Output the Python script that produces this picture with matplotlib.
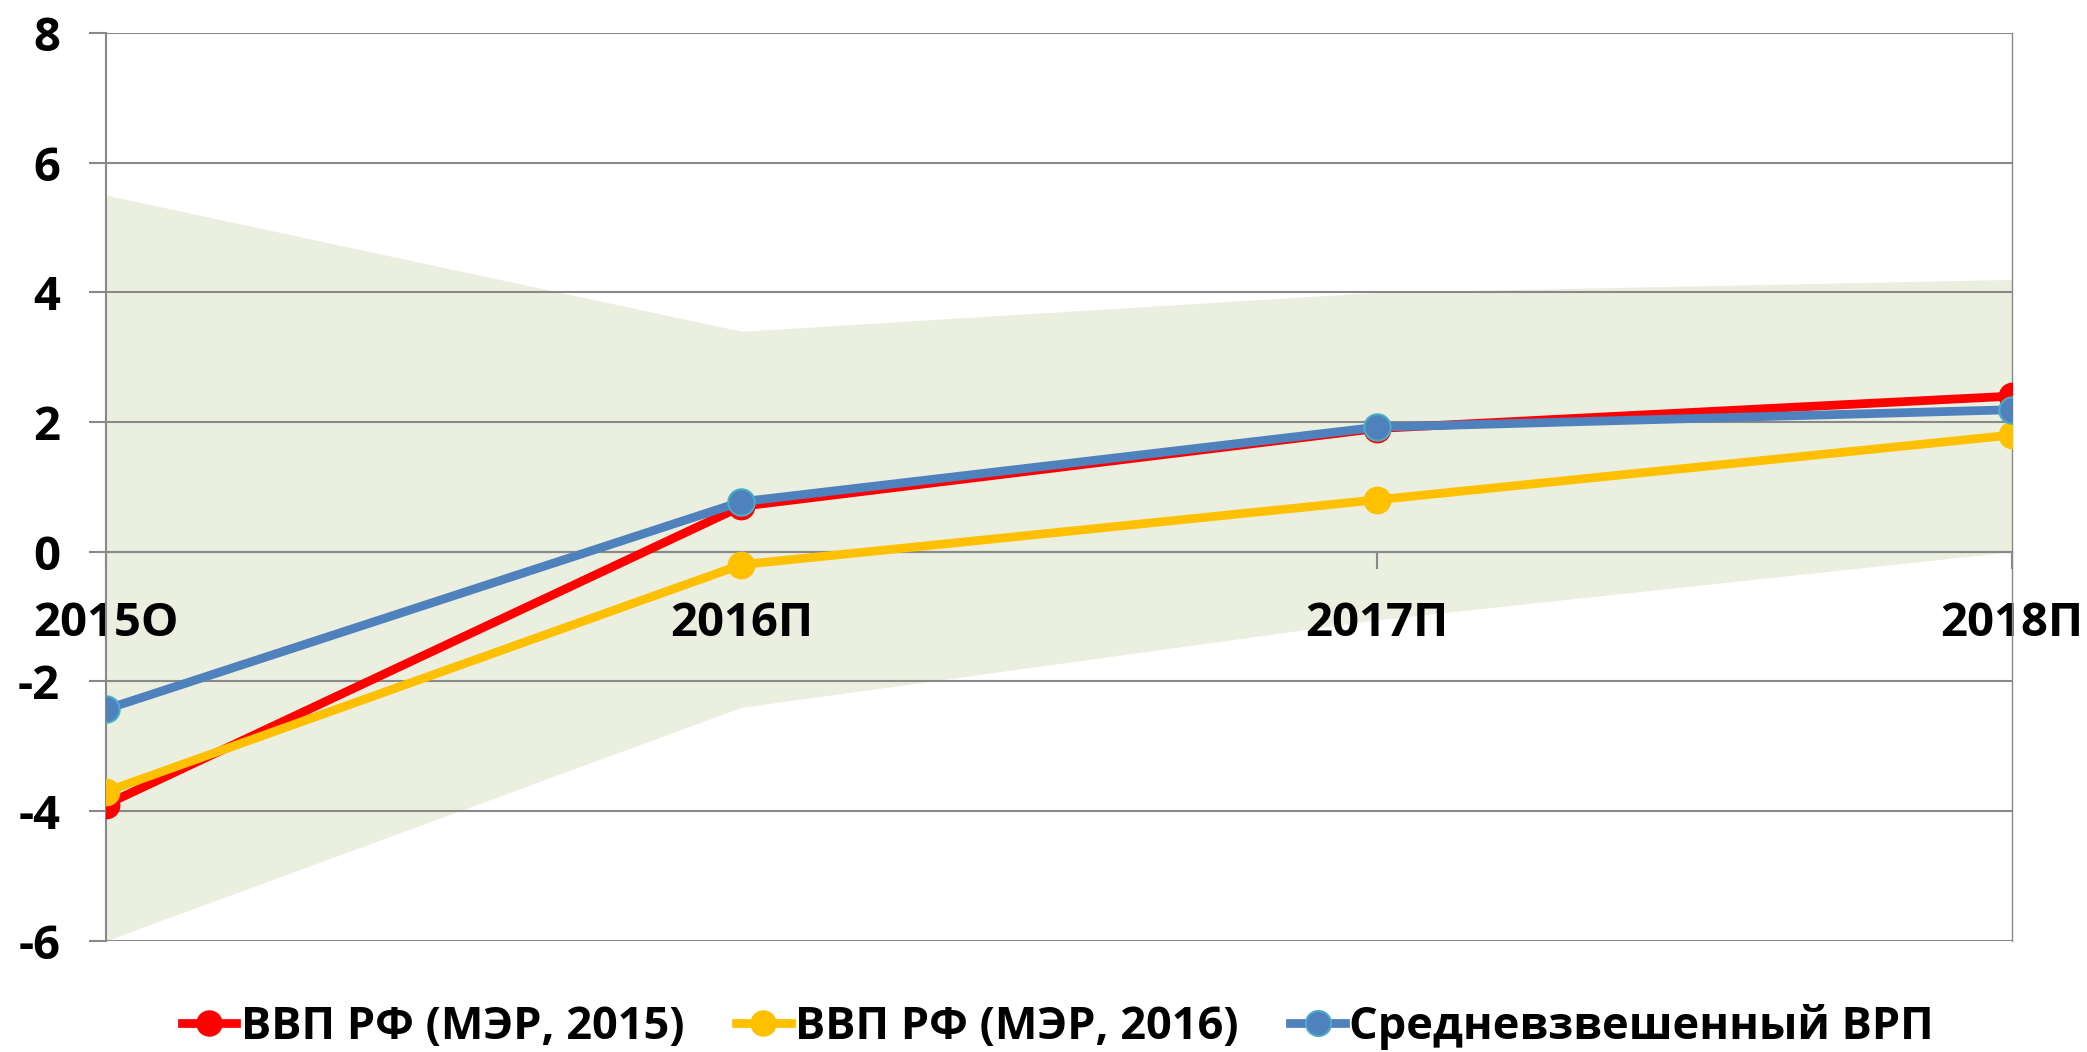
import numpy as np
import matplotlib
matplotlib.use("Agg")
import matplotlib.pyplot as plt

# categories and series
years = ["2015О", "2016П", "2017П", "2018П"]
gdp_2015 = [-3.9, 0.7, 1.9, 2.4]
gdp_2016 = [-3.7, -0.2, 0.8, 1.8]
grp_avg = [-2.43, 0.77, 1.92, 2.19]
range_high = [5.5, 3.4, 4.0, 4.2]
range_low = [-6.0, -2.4, -1.05, 0.0]

labels = ["ВВП РФ (МЭР, 2015)", "ВВП РФ (МЭР, 2016)", "Средневзвешенный ВРП"]
yticks = [-6, -4, -2, 0, 2, 4, 6, 8]

plt.rcParams['font.family'] = ['Open Sans', 'DejaVu Sans']
plt.rcParams['font.weight'] = 'bold'
plt.rcParams['axes.unicode_minus'] = False

grey = "#898989"
fs = 34

fig = plt.figure(figsize=(20.87, 10.52), dpi=100)
ax = fig.add_axes([0.0508, 0.1058, 0.9133, 0.8628])

x = np.arange(len(years))

ax.fill_between(x, range_low, range_high, color="#EBEFDF", linewidth=0, zorder=0.1)

ax.plot(x, gdp_2015, color="#FF0000", lw=6.3, marker="o", ms=19,
        mfc="#FF0000", mec="#FF0000", label=labels[0], zorder=3)
ax.plot(x, gdp_2016, color="#FFC000", lw=6.3, marker="o", ms=19,
        mfc="#FFC000", mec="#FFC000", label=labels[1], zorder=4)
ax.plot(x, grp_avg, color="#4F81BD", lw=6.3, marker="o", ms=19,
        mfc="#4F81BD", mec="#4BACC6", mew=1.5, label=labels[2], zorder=5)

ax.set_xlim(0, 3)
ax.set_ylim(-6, 8)
ax.set_yticks(yticks)
ax.set_yticklabels([str(v) for v in yticks])
ax.set_xticks(x)
ax.set_xticklabels(years)

ax.set_axisbelow(True)
ax.yaxis.grid(True, color=grey, lw=1.5)
ax.xaxis.grid(False)

ax.spines['top'].set_visible(False)
ax.spines['bottom'].set_position(('data', 0))
for s in ['left', 'bottom', 'right']:
    ax.spines[s].set_color(grey)
    ax.spines[s].set_linewidth(1.5)
ax.spines['right'].set_linewidth(1.0)

ax.tick_params(axis='y', direction='out', length=12, width=1.5, color=grey,
               labelsize=fs, pad=21)
ax.tick_params(axis='x', direction='out', length=12, width=1.5, color=grey,
               labelsize=fs, pad=23)
for t in ax.get_xticklabels() + ax.get_yticklabels():
    t.set_fontweight('bold')

fig.legend(loc='center', bbox_to_anchor=(0.507, 0.024), ncol=3, frameon=False,
           handlelength=1.2, handletextpad=0.1, columnspacing=1.15,
           markerscale=0.95, prop={'size': 32.5, 'weight': 'bold'})

fig.savefig("out.png", dpi=100)
